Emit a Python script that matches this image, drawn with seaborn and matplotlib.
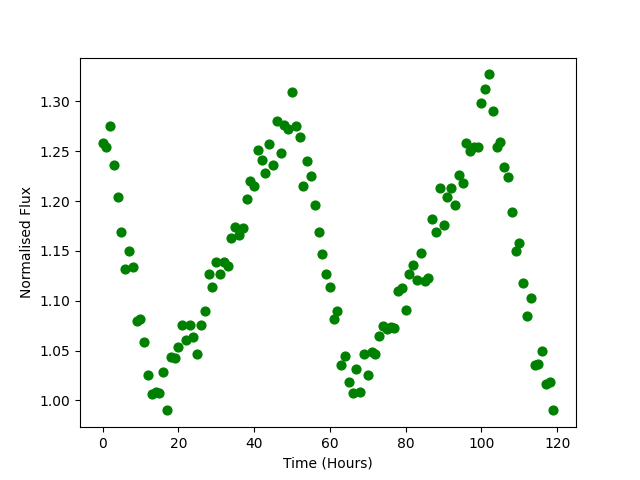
import numpy as np
import pandas as pd
import matplotlib
matplotlib.use("Agg")
import matplotlib.pyplot as plt
import seaborn as sns

# hourly normalised flux readings
hours = list(range(120))
flux = [
    1.258, 1.254, 1.275, 1.236, 1.204, 1.169, 1.132, 1.150, 1.134, 1.080,
    1.082, 1.059, 1.026, 1.006, 1.008, 1.007, 1.029, 0.990, 1.044, 1.043,
    1.054, 1.076, 1.061, 1.076, 1.064, 1.047, 1.076, 1.090, 1.127, 1.114,
    1.139, 1.127, 1.139, 1.135, 1.163, 1.174, 1.166, 1.173, 1.202, 1.220,
    1.215, 1.251, 1.241, 1.228, 1.257, 1.236, 1.280, 1.248, 1.276, 1.272,
    1.309, 1.275, 1.264, 1.215, 1.240, 1.225, 1.196, 1.169, 1.147, 1.127,
    1.114, 1.082, 1.090, 1.036, 1.045, 1.018, 1.007, 1.032, 1.008, 1.047,
    1.026, 1.049, 1.047, 1.065, 1.075, 1.072, 1.074, 1.073, 1.110, 1.113,
    1.091, 1.127, 1.136, 1.121, 1.148, 1.120, 1.123, 1.182, 1.169, 1.213,
    1.176, 1.204, 1.213, 1.196, 1.226, 1.218, 1.258, 1.250, 1.254, 1.254,
    1.298, 1.312, 1.327, 1.290, 1.254, 1.259, 1.234, 1.224, 1.189, 1.150,
    1.158, 1.118, 1.085, 1.103, 1.036, 1.037, 1.050, 1.016, 1.018, 0.990,
]

df = pd.DataFrame({"Time (Hours)": hours, "Normalised Flux": flux})

fig, ax = plt.subplots(figsize=(6.4, 4.8), dpi=100)
sns.scatterplot(data=df, x="Time (Hours)", y="Normalised Flux", ax=ax,
                color="green", edgecolor="green", s=40, linewidth=1)
ax.set_xlabel("Time (Hours)")
ax.set_ylabel("Normalised Flux")

plt.savefig("out.png")
